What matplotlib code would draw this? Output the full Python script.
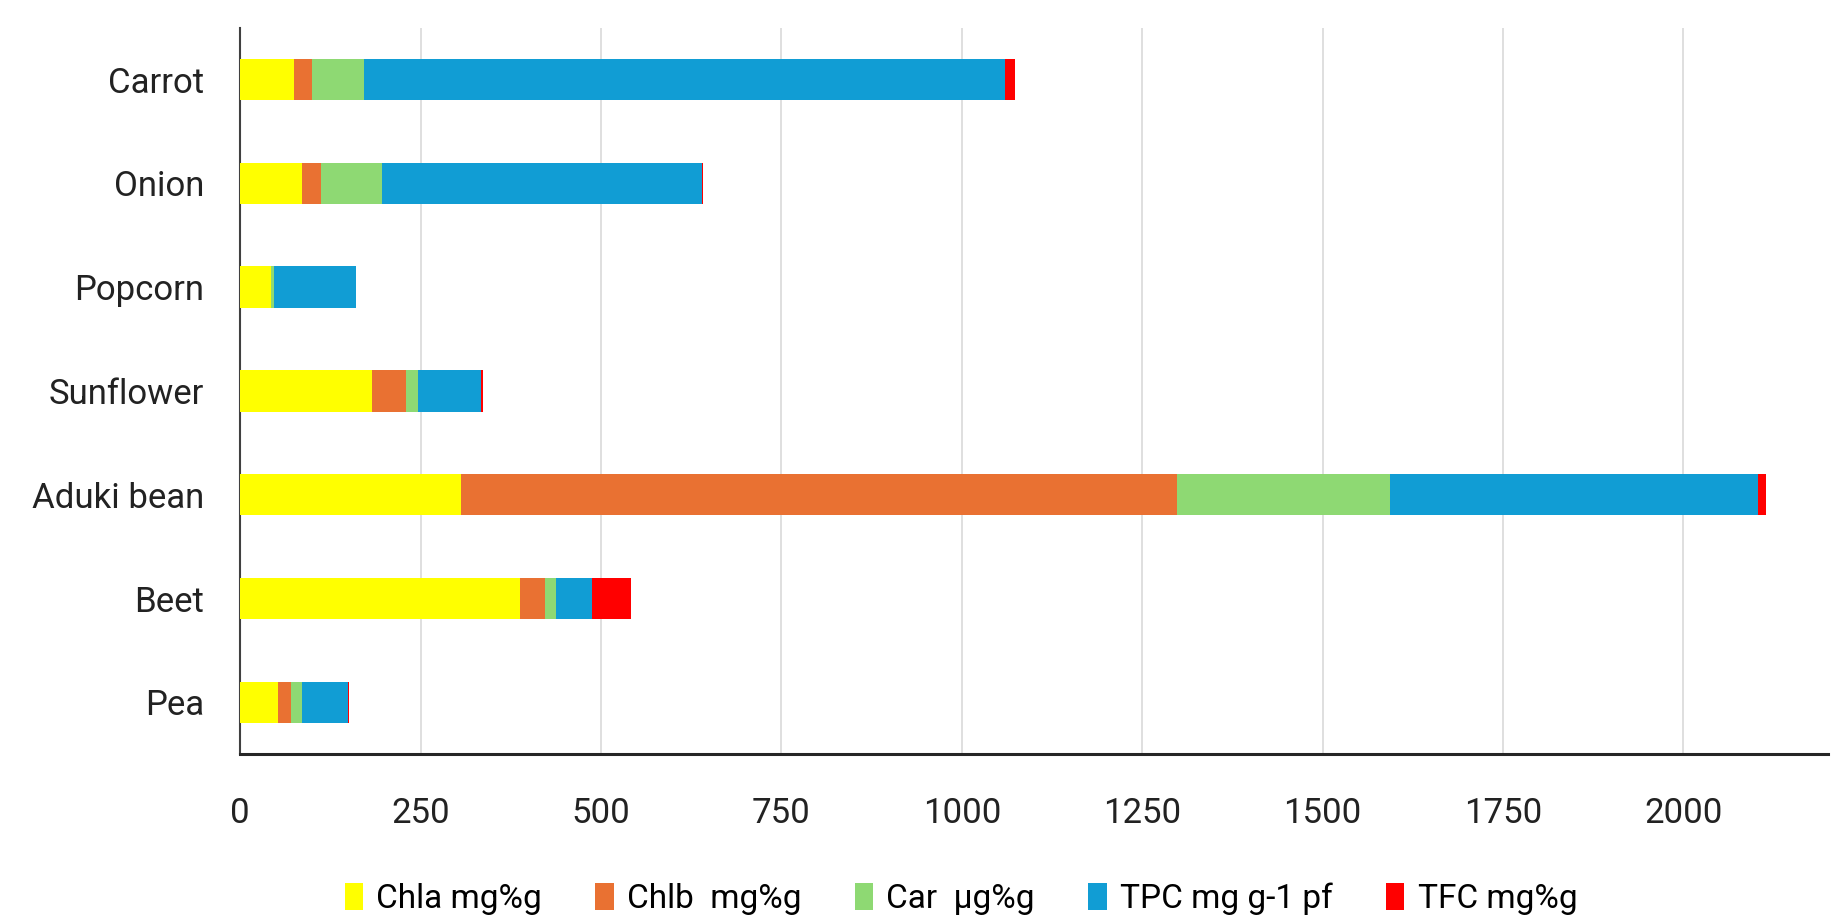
import matplotlib.pyplot as plt
import numpy as np

plt.rcParams['font.family'] = ['Roboto', 'DejaVu Sans']

# categories, top to bottom as in the chart
crops = ['Carrot', 'Onion', 'Popcorn', 'Sunflower', 'Aduki bean', 'Beet', 'Pea']

chla = [75, 85, 42, 182, 306, 388, 53]
chlb = [24, 27, 1, 48, 992, 35, 17]
car = [73, 84, 4, 17, 295, 15, 16]
tpc = [888, 444, 113, 86, 511, 50, 63]
tfc = [14, 2, 1, 3, 10, 53, 2]

series_names = ['Chla mg%g', 'Chlb  mg%g', 'Car  µg%g', 'TPC mg g-1 pf', 'TFC mg%g']
series_colors = ['#FFFF00', '#E97132', '#8ED973', '#119DD4', '#FF0000']
xticks = [0, 250, 500, 750, 1000, 1250, 1500, 1750, 2000]

fig = plt.figure(figsize=(18.48, 9.22), dpi=100)
ax = fig.add_axes([0.130, 0.182, 0.859, 0.788])

y = np.arange(len(crops))[::-1]
left = np.zeros(len(crops))
for name, vals, col in zip(series_names, [chla, chlb, car, tpc, tfc], series_colors):
    vals = np.array(vals, dtype=float)
    ax.barh(y, vals, left=left, height=0.4, color=col, label=name, zorder=3)
    left += vals

ax.set_xlim(0, 2200)
ax.set_ylim(-0.5, 6.5)
ax.set_xticks(xticks)
ax.set_yticks(y)
ax.set_yticklabels(crops)
ax.tick_params(axis='both', length=0, labelsize=25, colors='#222222')
ax.tick_params(axis='x', pad=31)
ax.tick_params(axis='y', pad=26)

ax.grid(axis='x', color='#D9D9D9', linewidth=1.2, zorder=0)
for s in ['top', 'right']:
    ax.spines[s].set_visible(False)
ax.spines['left'].set_color('#404040')
ax.spines['left'].set_linewidth(1.5)
ax.spines['bottom'].set_color('#262626')
ax.spines['bottom'].set_linewidth(2.2)

fig.legend(loc='lower center', bbox_to_anchor=(0.52, -0.025), ncol=5, frameon=False,
           fontsize=24, handlelength=0.55, handleheight=0.9, handletextpad=0.4,
           columnspacing=1.6)

plt.savefig('out.png', dpi=100)
plt.close()
